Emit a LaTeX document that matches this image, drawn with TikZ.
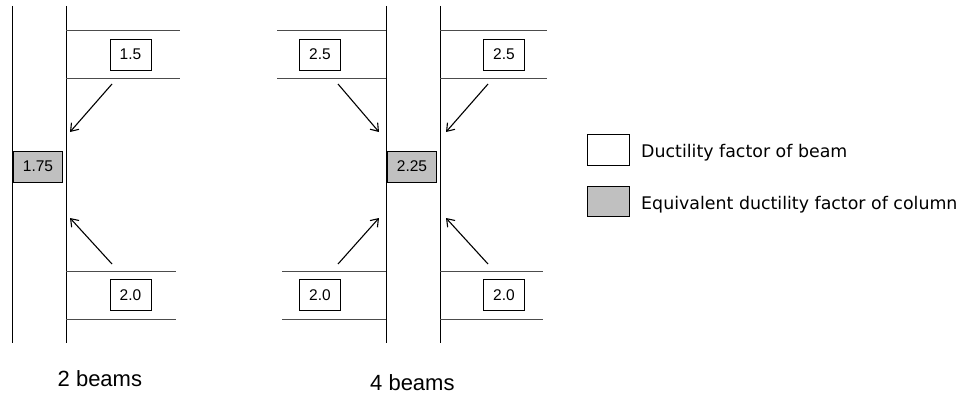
\documentclass[tikz,border=0pt]{standalone}
\usepackage{fontspec}
\setmainfont{DejaVu Sans}
\newfontfamily\numfont{Liberation Sans}
\usetikzlibrary{arrows.meta}
\definecolor{boxgray}{RGB}{192,192,192}
\begin{document}
\begin{tikzpicture}[x=1pt,y=-1pt,
  col/.style={line width=0.9pt,black},
  beamline/.style={line width=0.9pt,black!70},
  beambox/.style={draw,line width=0.8pt,fill=white,minimum width=41pt,minimum height=31pt,
    inner sep=0pt,font=\numfont\fontsize{15.5}{17}\selectfont},
  colbox/.style={beambox,fill=boxgray,minimum width=49pt},
  flow/.style={line width=1.1pt,-{Straight Barb[length=7pt,width=10pt]}},
  caption/.style={anchor=base west,inner sep=0pt,font=\numfont\fontsize{22}{26}\selectfont},
  legendtext/.style={anchor=base west,inner sep=0pt,font=\fontsize{17.4}{20}\selectfont}]
\useasboundingbox (0,0) rectangle (965,396);

% ---- two beams joining one column ----
\draw[col] (12,6) -- (12,343);
\draw[col] (66,6) -- (66,343);
\draw[beamline] (66,30) -- (180,30) (66,78) -- (180,78);
\draw[beamline] (66,271) -- (176,271) (66,319) -- (176,319);
\node[beambox] (bA1) at (130.5,54.5) {1.5};
\node[beambox] (bA2) at (130.5,295) {2.0};
\node[colbox]  (cA)  at (38,166.5) {1.75};
\coordinate (fA1s) at (112,84);  \coordinate (fA1e) at (70,132);
\coordinate (fA2s) at (112,264); \coordinate (fA2e) at (70,218);
\draw[flow] (fA1s) -- (fA1e);
\draw[flow] (fA2s) -- (fA2e);
\node[caption] (capA) at (57.5,386.5) {2 beams};

% ---- four beams joining one column ----
\draw[col] (386,6) -- (386,343);
\draw[col] (440,6) -- (440,343);
\draw[beamline] (277,30) -- (386,30) (277,78) -- (386,78);
\draw[beamline] (282,271) -- (386,271) (282,319) -- (386,319);
\draw[beamline] (440,30) -- (547,30) (440,78) -- (547,78);
\draw[beamline] (440,271) -- (543,271) (440,319) -- (543,319);
\node[beambox] (bB1) at (320,54.5) {2.5};
\node[beambox] (bB2) at (320,295) {2.0};
\node[beambox] (bB3) at (504,54.5) {2.5};
\node[beambox] (bB4) at (504,295) {2.0};
\node[colbox]  (cB)  at (412,166.5) {2.25};
\coordinate (fB1s) at (338,84);  \coordinate (fB1e) at (379,132);
\coordinate (fB2s) at (338,264); \coordinate (fB2e) at (379,218);
\coordinate (fB3s) at (488,84);  \coordinate (fB3e) at (446,132);
\coordinate (fB4s) at (488,264); \coordinate (fB4e) at (446,218);
\draw[flow] (fB1s) -- (fB1e);
\draw[flow] (fB2s) -- (fB2e);
\draw[flow] (fB3s) -- (fB3e);
\draw[flow] (fB4s) -- (fB4e);
\node[caption] (capB) at (370,390) {4 beams};

% ---- legend ----
\node[beambox,minimum width=42pt] (lgBeam) at (608,149.5) {};
\node[colbox,minimum width=42pt,minimum height=30pt] (lgCol) at (608,201) {};
\node[legendtext] (lgBeamTxt) at (641,157.5) {Ductility factor of beam};
\node[legendtext] (lgColTxt) at (641,209) {Equivalent ductility factor of column};
\end{tikzpicture}
\end{document}
